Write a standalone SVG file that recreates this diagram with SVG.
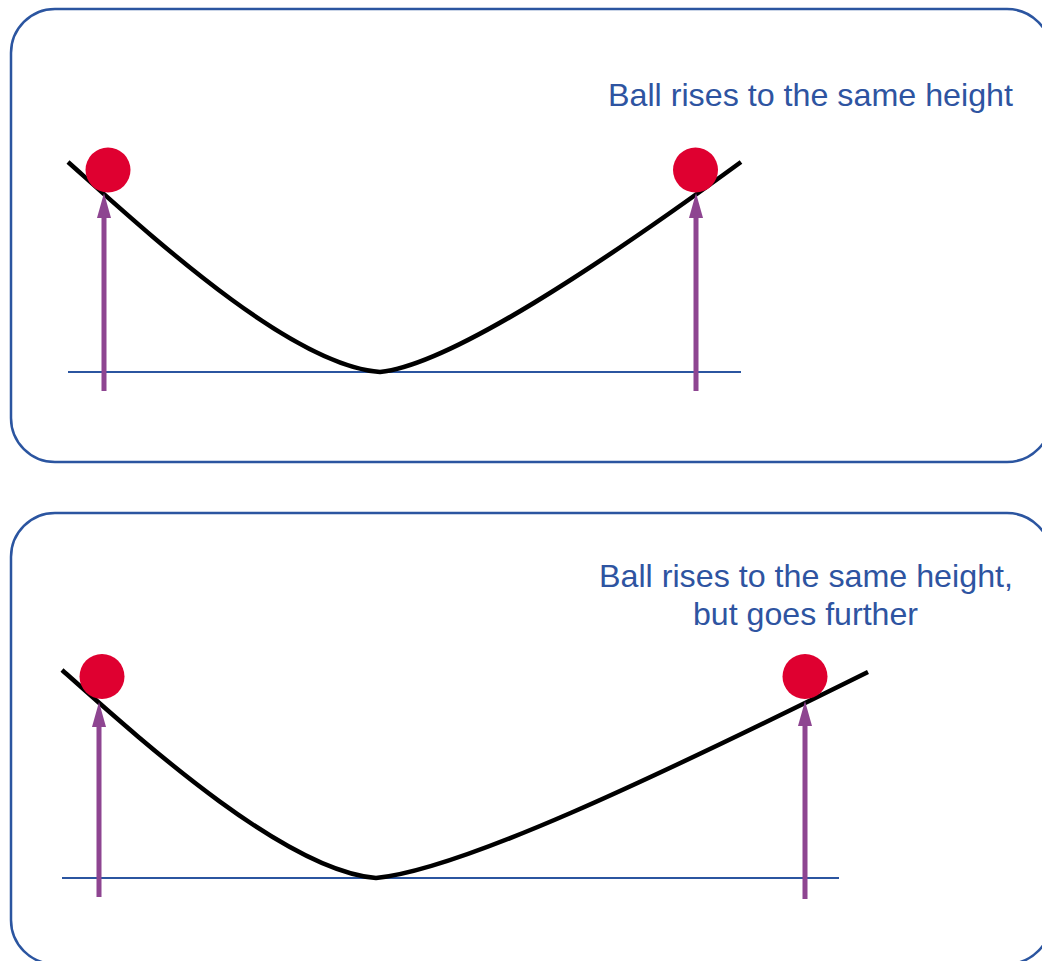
<svg xmlns="http://www.w3.org/2000/svg" width="1042" height="961" viewBox="0 0 1042 961">
<style>
.panel{fill:#fff;stroke:#2B55A0;stroke-width:2.5}
.track{fill:none;stroke:#000;stroke-width:4.5;stroke-linecap:butt}
.ground{stroke:#2B55A0;stroke-width:2}
.ball{fill:#DF0030}
.arrow{stroke:#8E4591;stroke-width:5;marker-end:url(#head)}
.label{font-family:"Liberation Sans",Arial,Helvetica,sans-serif;font-size:32px;fill:#2E54A1}
</style>
<defs>
<marker id="head" viewBox="0 0 25 14" markerUnits="userSpaceOnUse" markerWidth="25" markerHeight="14" refX="1" refY="7" orient="auto">
<path d="M0,0 L25,7 L0,14 Z" fill="#8E4591"/>
</marker>
</defs>
<g id="panel-top">
<rect class="panel" x="11" y="9" width="1040" height="453" rx="44" ry="44"/>
<text class="label" x="608" y="106" textLength="405" lengthAdjust="spacingAndGlyphs">Ball rises to the same height</text>
<line class="ground" x1="68" y1="372" x2="741" y2="372"/>
<path class="track" d="M68,162 C150,235 290,365 380,372 C450,365 600,265 741,162"/>
<circle class="ball" cx="108" cy="170" r="22.5"/>
<circle class="ball" cx="695.5" cy="170" r="22.5"/>
</g>
<g id="panel-bottom">
<rect class="panel" x="11" y="513" width="1040" height="451" rx="44" ry="44"/>
<text class="label" x="599" y="587" textLength="414" lengthAdjust="spacingAndGlyphs">Ball rises to the same height,</text>
<text class="label" x="693" y="625" textLength="225" lengthAdjust="spacingAndGlyphs">but goes further</text>
<line class="ground" x1="62" y1="878" x2="839" y2="878"/>
<path class="track" d="M62,670 C144,743 286,871 376,878 C460,870 650,780 868,672"/>
<circle class="ball" cx="102" cy="676.5" r="22.5"/>
<circle class="ball" cx="805" cy="676.5" r="22.5"/>
</g>
<g id="connectors">
<line class="arrow" x1="104" y1="391" x2="104" y2="217"/>
<line class="arrow" x1="696" y1="391" x2="696" y2="217"/>
<line class="arrow" x1="99" y1="897" x2="99" y2="726"/>
<line class="arrow" x1="805" y1="899" x2="805" y2="725"/>
</g>
</svg>
